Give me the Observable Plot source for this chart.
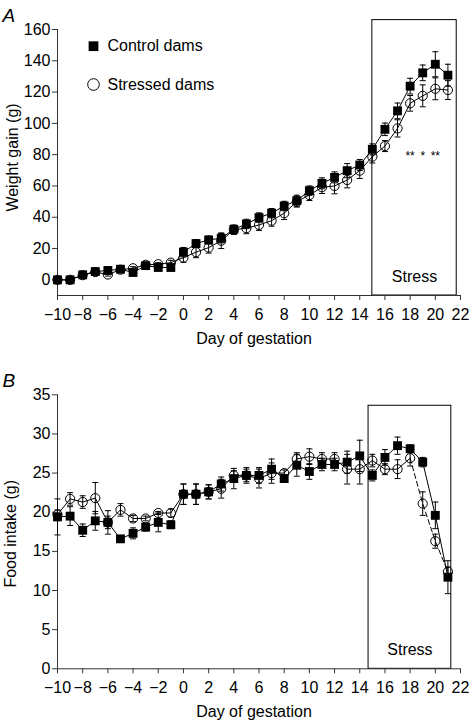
<!DOCTYPE html>
<html><head><meta charset="utf-8">
<script src="https://cdn.jsdelivr.net/npm/d3@7"></script>
<script src="https://cdn.jsdelivr.net/npm/@observablehq/plot@0.6"></script>
<style>body{margin:0;background:#fff;} svg{display:block;}</style>
</head><body><div id="chart"></div>
<script>
const days = [-10,-9,-8,-7,-6,-5,-4,-3,-2,-1,0,1,2,3,4,5,6,7,8,9,10,11,12,13,14,15,16,17,18,19,20,21];

// Panel A: weight gain (g)
const weightControl   = [0,0,3.2,5.3,6,6.8,4.7,9.1,7.9,7.9,17.7,23.2,25.5,26.6,32.3,35.7,39.8,42.6,47.2,50.6,57,61.7,65.5,69.8,73.4,83.4,96.2,108,123.8,132.3,137.8,130.8];
const weightControlSE = [0.5,0.5,1,1,1,1,1,1.5,1.5,1.5,3,2.5,2.5,3,2.5,3,3,3,3,3.5,3,3.5,3.5,4.5,3.5,3.5,4,5,5,5,8,7];
const weightStressed   = [0,0,3,5,3.4,6.5,7.4,9.6,10,11,14.2,17.7,20.6,25,32,33,35.1,37.8,42.6,50,54.2,59.2,60,63.8,69.8,78.7,85.5,96.8,112.8,117.6,122.1,121.3];
const weightStressedSE = [0.5,0.5,1,1,1,1,1,1,1,1.5,3,3.5,3.5,5,3,3.5,3.5,3.5,4,3.5,3.5,4,5,5,5,4,3.5,5.5,5,7,7,6];

// Panel B: food intake (g)
const foodControl   = [19.4,19.5,17.7,18.9,18.7,16.6,17.3,18.1,18.7,18.4,22.3,22.3,22.6,23.6,24.3,24.7,24.7,25.5,24.3,26.0,25.2,26.1,26.1,26.4,27.2,24.7,27.0,28.5,28.1,26.4,19.6,11.7];
const foodControlSE = [2.3,1.2,0.8,1.2,1.5,0.4,0.7,0.5,1.2,0.5,1.3,1.3,0.9,0.9,1.3,1.0,1.0,1.3,0.5,1.4,1.0,0.8,0.8,1.4,2.0,0.7,1.0,1.1,0.5,0.6,1.7,2.1];
const foodStressed   = [19.7,21.7,21.3,21.8,18.7,20.3,19.2,19.2,19.9,19.9,22.3,22.3,22.6,23.0,24.7,24.7,24.3,25.0,25.0,26.8,27.1,26.8,26.8,25.5,25.5,26.6,25.5,25.5,26.9,21.1,16.3,12.4];
const foodStressedSE = [0.6,0.8,0.8,2.0,0.8,0.8,0.4,0.3,0.2,0.5,1.3,1.3,0.9,1.2,0.6,0.8,1.2,1.3,0.4,0.8,1.0,0.8,0.8,1.9,1.9,0.8,0.7,1.2,1.0,1.5,0.9,0.6];

const xDomain = [-10, 22];
const xTicks = [-10,-8,-6,-4,-2,0,2,4,6,8,10,12,14,16,18,20,22];
const weightDomain = [-10, 160];
const weightTicks = [0,20,40,60,80,100,120,140,160];
const foodDomain = [0, 35];
const foodTicks = [0,5,10,15,20,25,30,35];

const stressBoxA = [{x1: 15, x2: 21.7, y1: -10, y2: 166}];
const stressBoxB = [{x1: 14.7, x2: 21.27, y1: 0, y2: 33.6}];
const sigDays = [18, 19, 20];
const sigLabels = ["**", "*", "**"];
const legendLabels = ["Control dams", "Stressed dams"];
const dashedFromDay = 18;

const font = "'Liberation Sans', Arial, Helvetica, sans-serif";
const ink = "#000";

const capSymbol = {
  draw(ctx, size) {
    const w = Math.sqrt(size / Math.PI);
    ctx.moveTo(-w, 0); ctx.lineTo(w, 0);
  }
};

function rows(ctrl, ctrlSE, str, strSE) {
  return {
    control: days.map((d, i) => ({day: d, v: ctrl[i], e: ctrlSE[i]})),
    stressed: days.map((d, i) => ({day: d, v: str[i], e: strSE[i]}))
  };
}

function errMarks(data) {
  return [
    Plot.ruleX(data, {x: "day", y1: d => d.v - d.e, y2: d => d.v + d.e, stroke: ink, strokeWidth: 1}),
    Plot.dot(data, {x: "day", y: d => d.v + d.e, symbol: capSymbol, r: 3, stroke: ink, strokeWidth: 1, fill: "none"}),
    Plot.dot(data, {x: "day", y: d => d.v - d.e, symbol: capSymbol, r: 3, stroke: ink, strokeWidth: 1, fill: "none"})
  ];
}

function panel(opts) {
  const {series, yDomain, yTicks, yLabel, letter, height, marginTop, marginBottom, box, dashed, extra, ylabelDx, ylabelDy} = opts;
  const strSolid = dashed ? series.stressed.filter(d => d.day <= dashedFromDay) : series.stressed;
  const strDashed = dashed ? series.stressed.filter(d => d.day >= dashedFromDay) : [];
  return Plot.plot({
    width: 472, height, marginLeft: 57, marginRight: 12, marginTop, marginBottom,
    style: {fontFamily: font, fontSize: "16px", color: ink, background: "#fff"},
    x: {domain: xDomain},
    y: {domain: yDomain},
    marks: [
      Plot.rect(box, {x1: "x1", x2: "x2", y1: "y1", y2: "y2", fill: "none", stroke: ink, strokeWidth: 1}),
      Plot.text(box, {x: d => (d.x1 + d.x2) / 2, frameAnchor: "bottom", lineAnchor: "middle", dy: -19, text: () => "Stress", fontSize: 16, fill: ink}),
      Plot.ruleX([xDomain[0]], {y1: yDomain[0], y2: yDomain[1], stroke: "#333", strokeWidth: 1}),
      Plot.ruleY([yDomain[0]], {x1: xDomain[0], x2: xDomain[1], stroke: "#333", strokeWidth: 1}),
      Plot.axisX(xTicks, {tickSize: 5, tickPadding: 8, label: null, stroke: "#333", fill: ink}),
      Plot.axisY(yTicks, {tickSize: 5, tickPadding: 2, label: null, stroke: "#333", fill: ink}),
      Plot.text(["Day of gestation"], {frameAnchor: "bottom", lineAnchor: "middle", textAnchor: "middle", dy: 43, dx: -5, fontSize: 16, fill: ink}),
      Plot.text([yLabel], {frameAnchor: "left", rotate: -90, textAnchor: "middle", lineAnchor: "middle", dx: ylabelDx, dy: ylabelDy, fontSize: 16, fill: ink}),
      Plot.text([letter], {frameAnchor: "top-left", textAnchor: "start", lineAnchor: "middle", dx: -55, dy: -14, fontSize: 19, fontStyle: "italic", fill: ink}),
      ...errMarks(series.stressed),
      ...errMarks(series.control),
      Plot.line(strSolid, {x: "day", y: "v", stroke: ink, strokeWidth: 1}),
      Plot.line(strDashed, {x: "day", y: "v", stroke: ink, strokeWidth: 1, strokeDasharray: "5,3"}),
      Plot.dot(series.stressed, {x: "day", y: "v", symbol: "circle", r: 4.6, stroke: ink, strokeWidth: 1, fill: "none"}),
      Plot.line(series.control, {x: "day", y: "v", stroke: ink, strokeWidth: 1}),
      Plot.dot(series.control, {x: "day", y: "v", symbol: "square", r: 5, fill: ink, stroke: "none"}),
      ...(extra || [])
    ]
  });
}

const legendMarks = [
  Plot.dot([legendLabels[0]], {frameAnchor: "top-left", dx: 36, dy: 16.7, symbol: "square", r: 5.5, fill: ink}),
  Plot.text([legendLabels[0]], {frameAnchor: "top-left", dx: 50, dy: 16.7, textAnchor: "start", lineAnchor: "middle", fontSize: 16, fill: ink}),
  Plot.dot([legendLabels[1]], {frameAnchor: "top-left", dx: 36, dy: 55, symbol: "circle", r: 5.8, fill: "none", stroke: ink, strokeWidth: 1}),
  Plot.text([legendLabels[1]], {frameAnchor: "top-left", dx: 50, dy: 55, textAnchor: "start", lineAnchor: "middle", fontSize: 16, fill: ink}),
  Plot.text(sigDays, {x: d => d, text: (d, i) => sigLabels[i], frameAnchor: "top", lineAnchor: "top", dy: 122, fontSize: 12, fill: ink})
];

const chart = document.getElementById("chart");
chart.append(panel({
  series: rows(weightControl, weightControlSE, weightStressed, weightStressedSE),
  yDomain: weightDomain, yTicks: weightTicks, yLabel: "Weight gain (g)", letter: "A",
  height: 350, marginTop: 29, marginBottom: 55, box: stressBoxA, dashed: false,
  extra: legendMarks, ylabelDx: -45, ylabelDy: -5
}));
chart.append(panel({
  series: rows(foodControl, foodControlSE, foodStressed, foodStressedSE),
  yDomain: foodDomain, yTicks: foodTicks, yLabel: "Food intake (g)", letter: "B",
  height: 372, marginTop: 44.3, marginBottom: 53.7, box: stressBoxB, dashed: true,
  ylabelDx: -47, ylabelDy: 2
}));
</script>
</body></html>
